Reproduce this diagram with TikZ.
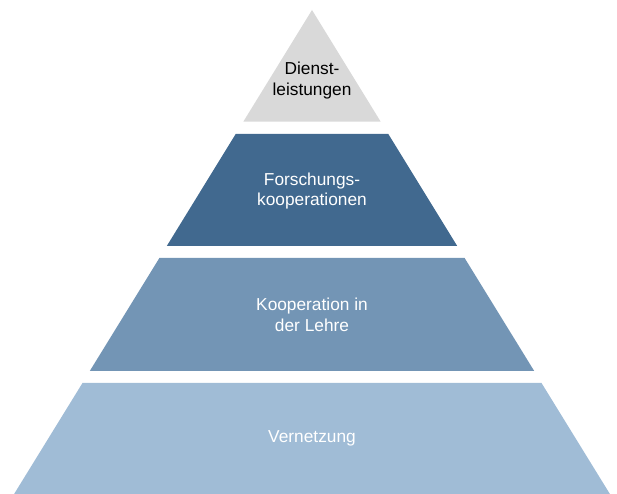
\documentclass[tikz,border=0pt]{standalone}
\usepackage{fontspec}
\setmainfont{Liberation Sans}
\definecolor{topGray}{HTML}{D9D9D9}
\definecolor{darkBlue}{HTML}{41698F}
\definecolor{midBlue}{HTML}{7395B5}
\definecolor{lightBlue}{HTML}{A0BCD6}
\tikzset{
    layer/.style = {align=center,
        font=\fontsize{17.3}{20.6}\selectfont,
        text=white},
    topLayer/.style = {layer, text=black},
}

\begin{document}
\begin{tikzpicture}[x=1pt,y=1pt]
		\useasboundingbox (0,0) rectangle (617,494);
		
		% pyramid layers, bottom up
		\fill[lightBlue] (14.1,0) -- (609.9,0) -- (541.5,111) -- (82.5,111) -- cycle;
		\fill[midBlue] (89.8,123) -- (534.2,123) -- (464.6,236) -- (159.4,236) -- cycle;
		\fill[darkBlue] (166.8,248) -- (457.2,248) -- (388.3,360) -- (235.7,360) -- cycle;
		\fill[topGray] (243.3,372.3) -- (380.7,372.3) -- (312,484) -- cycle;
		
		%% labels
		\node [layer] (vernetzung) at (312,55.5) {Vernetzung};
		\node [layer] (lehre) at (312,179) {Kooperation in\\der Lehre};
		\node [layer] (forschung) at (312,303) {Forschungs-\\kooperationen};
		\node [topLayer] (dienst) at (312,413.5) {Dienst-\\leistungen};

	\end{tikzpicture}
\end{document}
